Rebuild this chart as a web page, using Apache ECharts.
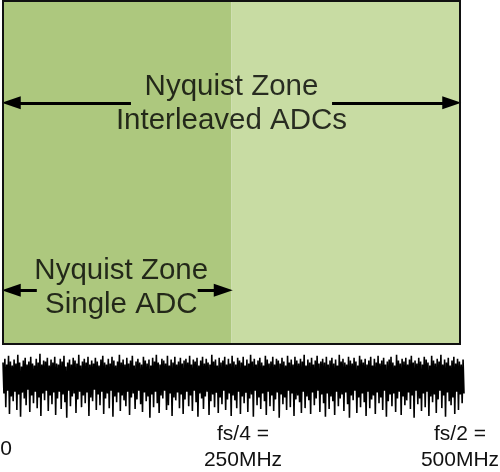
<!DOCTYPE html>
<html>
<head>
<meta charset="utf-8">
<script src="https://cdn.jsdelivr.net/npm/echarts@6/dist/echarts.min.js"></script>
<style>html,body{margin:0;padding:0;background:#fff}#c{width:500px;height:472px}</style>
</head>
<body>
<div id="c"></div>
<script>
// ---- data ----
const tickValues = [0, 250, 500];                       // MHz
const tickLabels = ['0', 'fs/4 =\n250MHz', 'fs/2 =\n500MHz'];
const zoneBounds = [0, 250, 500];                        // MHz
const spanNames = ['Nyquist Zone\nInterleaved ADCs', 'Nyquist Zone\nSingle ADC'];
const spanFrom = [0, 0];
const spanTo = [500, 250];
// noise trace, peaks and troughs (arbitrary units)
const noiseUpper = [
18,22,16,25,19,15,21,17,26,18,14,20,23,16,19,24,17,15,22,18,27,16,20,19,23,
15,21,18,24,17,16,22,19,25,14,18,21,16,23,20,17,26,15,19,22,18,24,16,20,17,
23,19,15,21,25,18,16,22,17,24,20,15,19,26,18,21,16,23,17,20,25,15,19,22,18,
16,24,20,17,21,15,23,19,26,18,16,22,20,17,25,15,21,18,24,16,19,23,17,20,22,
18,25,16,21,19,23,15,20,24,17,22,18,16,26,19,21,15,23,18,20,24,16,22,17,25,
19,16,23,20,18,24,15,21,17,26,19,22,16,20,23,18,15,25,21,17,19,24,16,22,20,
17,23,19,15,25,18,21,16,24,20,17,22,19,26,15,21,18,23,16,20,25,17,19,22,18,
24,16,20,23,17,21,15,26,19,22,18,16,24,20,17,23,19,15,25,21,18,22,16,20,24,
15,22,18,25,17,20,23,16,19,21,24,18,15,26,20,17,22,19,23,16,21,25,18,20,17,
23,19,16,24,21,18,15,25,20,17,22,19,26,16,21,18,23,15,20,24,17,22,19,16,21
];
const noiseLower = [
-14,-28,-11,-35,-17,-22,-12,-31,-15,-38,-13,-19,-26,-10,-33,-16,-24,-12,-29,-18,-37,-14,-21,-11,-32,
-16,-25,-13,-36,-19,-12,-30,-15,-23,-39,-11,-27,-17,-14,-34,-20,-12,-28,-16,-24,-13,-37,-18,-22,-10,
-31,-15,-26,-12,-35,-19,-14,-29,-11,-38,-17,-23,-13,-32,-16,-21,-27,-12,-36,-18,-14,-30,-20,-11,-25,
-33,-13,-22,-17,-39,-15,-28,-12,-24,-34,-16,-19,-11,-31,-26,-14,-37,-18,-21,-13,-29,-15,-35,-20,-12,
-27,-16,-32,-11,-23,-38,-14,-19,-30,-17,-12,-36,-22,-15,-28,-13,-34,-18,-25,-11,-31,-20,-14,-37,-16,
-21,-29,-12,-35,-17,-24,-13,-33,-19,-15,-38,-11,-26,-18,-30,-14,-22,-36,-12,-27,-16,-32,-20,-13,-39,
-15,-25,-18,-31,-11,-28,-14,-37,-20,-16,-23,-34,-12,-29,-17,-21,-35,-13,-26,-19,-11,-33,-15,-24,-38,
-14,-30,-17,-22,-36,-12,-27,-19,-15,-32,-13,-25,-39,-16,-21,-11,-34,-18,-28,-14,-23,-37,-12,-29,-20,
-16,-35,-13,-24,-18,-31,-11,-38,-22,-15,-27,-14,-33,-19,-12,-36,-17,-26,-21,-13,-30,-16,-39,-11,-25,
-19,-32,-14,-28,-12,-37,-17,-23,-15,-34,-20,-11,-29,-16,-38,-13,-22,-26,-18,-35,-12,-31,-15,-24,-14
];

// ---- styles / layout ----
const FONT = '"Liberation Sans", Arial, sans-serif';
const zoneColors = ['#adc87e', '#c8dca3'];
const arrowLevels = [70.3, 15.7];        // y position of arrows (0..100 of box)
const gapHalf = [110, 88];               // half-width of the text gap, MHz
const tipInset = 9;                      // keeps the arrow tip on the span end, MHz
const labelOffsets = [[0, 1], [4, -2]];

const noiseData = [];
const n = Math.min(noiseUpper.length, noiseLower.length);
for (let i = 0; i < n; i++) {
  noiseData.push([2 * i, noiseUpper[i]]);
  noiseData.push([2 * i + 1, noiseLower[i]]);
}

const zoneAreas = [];
for (let i = 0; i < zoneBounds.length - 1; i++) {
  zoneAreas.push([{ xAxis: zoneBounds[i], itemStyle: { color: zoneColors[i] } }, { xAxis: zoneBounds[i + 1] }]);
}

const arrowLines = [];
const spanLabels = [];
for (let i = 0; i < spanNames.length; i++) {
  const c = (spanFrom[i] + spanTo[i]) / 2;
  const y = arrowLevels[i];
  arrowLines.push([{ coord: [spanFrom[i] + tipInset, y], symbol: 'triangle' }, { coord: [c - gapHalf[i], y], symbol: 'none' }]);
  arrowLines.push([{ coord: [c + gapHalf[i], y], symbol: 'none' }, { coord: [spanTo[i] - tipInset, y], symbol: 'triangle' }]);
  spanLabels.push({ name: spanNames[i], value: [c, y], label: { offset: labelOffsets[i] } });
}

const richLabel = {
  z: { fontSize: 21, lineHeight: 56, fontFamily: FONT, color: '#111', padding: [0, 0, 0, 6] },
  a: { fontSize: 21, lineHeight: 26, fontFamily: FONT, color: '#111', padding: [0, 0, 0, 23] },
  b: { fontSize: 21, lineHeight: 26, fontFamily: FONT, color: '#111' }
};
const richKeys = ['z', 'a', 'b'];

const chart = echarts.init(document.getElementById('c'), null, { renderer: 'canvas' });
chart.setOption({
  animation: false,
  backgroundColor: '#fff',
  grid: [
    { left: 3, right: 40, top: 1, height: 343, show: true, z: 10, backgroundColor: 'transparent', borderColor: '#111', borderWidth: 2,
      containLabel: false, outerBoundsMode: 'none' },
    { left: 3, right: 36, top: 348, height: 70, containLabel: false, outerBoundsMode: 'none' }
  ],
  xAxis: [
    {
      gridIndex: 0, type: 'value', min: 0, max: 500, interval: 250,
      axisLine: { show: false }, axisTick: { show: false }, splitLine: { show: false },
      axisLabel: {
        margin: 77, fontSize: 21, lineHeight: 26, fontFamily: FONT, color: '#111',
        showMinLabel: true, showMaxLabel: true,
        formatter: function (v) {
          const k = tickValues.indexOf(v);
          if (k < 0) return '';
          return tickLabels[k].split('\n').map(function (s) { return '{' + richKeys[k] + '|' + s + '}'; }).join('\n');
        },
        rich: richLabel
      }
    },
    { gridIndex: 1, type: 'value', min: 0, max: noiseData.length - 1, show: false }
  ],
  yAxis: [
    { gridIndex: 0, type: 'value', min: 0, max: 100, show: false },
    { gridIndex: 1, type: 'value', min: -39.2, max: 33, show: false }
  ],
  series: [
    {
      type: 'scatter', xAxisIndex: 0, yAxisIndex: 0, symbolSize: 0, silent: true,
      data: spanLabels,
      label: {
        show: true, position: 'inside', formatter: function (p) { return p.name; },
        fontSize: 29.5, lineHeight: 34, fontFamily: FONT, color: '#000', align: 'center', verticalAlign: 'middle'
      },
      markArea: { silent: true, data: zoneAreas },
      markLine: {
        silent: true, symbolSize: [13, 19], precision: 4,
        lineStyle: { color: '#000', width: 3, type: 'solid' },
        label: { show: false },
        data: arrowLines
      },
      z: 3
    },
    {
      type: 'line', xAxisIndex: 1, yAxisIndex: 1, data: noiseData,
      showSymbol: false, silent: true,
      lineStyle: { color: '#000', width: 1.6 }
    }
  ]
});
</script>
</body>
</html>
